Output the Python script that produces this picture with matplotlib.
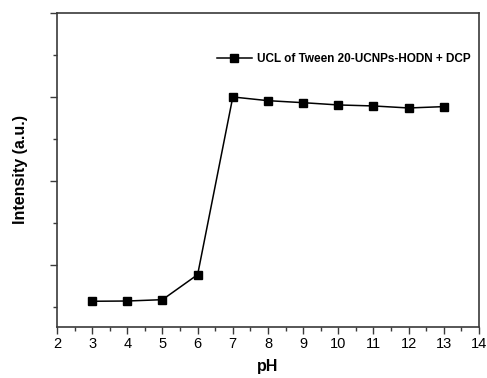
import matplotlib
matplotlib.use("Agg")
import matplotlib.pyplot as plt
from matplotlib.ticker import MultipleLocator, NullFormatter

plt.rcParams['font.family'] = ['Liberation Sans', 'DejaVu Sans']

# pH values and UCL intensity (arbitrary units)
ph = [3, 4, 5, 6, 7, 8, 9, 10, 11, 12, 13]
intensity = [0.568, 0.571, 0.587, 0.885, 3.0, 2.956, 2.932, 2.905, 2.893, 2.869, 2.885]
label = "UCL of Tween 20-UCNPs-HODN + DCP"

fig = plt.figure(figsize=(4.87, 3.78), dpi=100)
ax = fig.add_axes([0.117, 0.135, 0.8665, 0.8307])

ax.plot(ph, intensity, color='black', lw=1.1, marker='s', ms=6,
        label=label)

ax.set_xlim(2, 14)
ax.set_ylim(0.262, 4.0)
ax.xaxis.set_major_locator(MultipleLocator(1))
ax.xaxis.set_minor_locator(MultipleLocator(0.5))
ax.yaxis.set_major_locator(MultipleLocator(1))
ax.yaxis.set_minor_locator(MultipleLocator(0.5))
ax.yaxis.set_major_formatter(NullFormatter())

for s in ax.spines.values():
    s.set_color('#3a3a3a')
    s.set_linewidth(1.2)
ax.tick_params(which='major', direction='out', length=5, width=1.0,
               color='#3a3a3a', labelsize=10.5, pad=2)
ax.tick_params(which='minor', direction='out', length=3, width=1.0,
               color='#3a3a3a')

ax.set_xlabel('pH', fontsize=11.5, fontweight='bold', labelpad=6)
ax.set_ylabel('Intensity (a.u.)', fontsize=11.5, fontweight='bold', labelpad=14)

ax.legend(loc='upper right', bbox_to_anchor=(1.005, 0.905), frameon=False,
          prop={'weight': 'bold', 'size': 8.5}, handlelength=3.0,
          handletextpad=0.4)

fig.savefig("out.png", dpi=100)
